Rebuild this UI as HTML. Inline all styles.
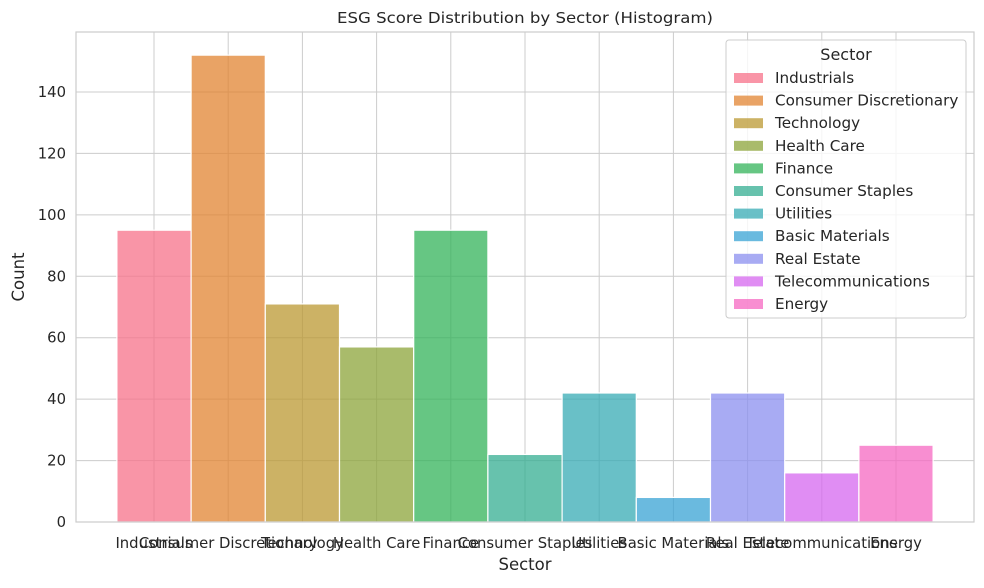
<!DOCTYPE html>
<html><head><meta charset="utf-8"><style>
body{margin:0;background:#fff;font-family:"DejaVu Sans","Liberation Sans",sans-serif;}
</style></head><body>
<svg width="984" height="584" xmlns="http://www.w3.org/2000/svg" font-family="DejaVu Sans, Liberation Sans, sans-serif">
<g id="grid"></g>
<g id="bars"></g>
<rect x="76" y="32" width="898" height="490" fill="none" stroke="#cccccc" stroke-width="1.2"/>
<g id="yticks"></g>
<g id="xticks"></g>
<text x="525" y="23" text-anchor="middle" font-size="15" fill="#262626" textLength="376" lengthAdjust="spacingAndGlyphs">ESG Score Distribution by Sector (Histogram)</text>
<text x="525" y="570" text-anchor="middle" font-size="16.5" fill="#262626">Sector</text>
<text transform="translate(24,277) rotate(-90)" text-anchor="middle" font-size="16.5" fill="#262626">Count</text>
<g id="legend">
<rect x="726" y="40" width="240" height="278" rx="3" fill="#fff" fill-opacity="0.8" stroke="#cccccc"/>
<text x="846" y="60" text-anchor="middle" font-size="16" fill="#262626">Sector</text>
</g>
</svg>
<script>
const categories=["Industrials","Consumer Discretionary","Technology","Health Care","Finance","Consumer Staples","Utilities","Basic Materials","Real Estate","Telecommunications","Energy"];
const counts=[95,152,71,57,95,22,42,8,42,16,25];
const yTicks=[0,20,40,60,80,100,120,140];
const colors=["#f77189","#e18432","#bb9832","#8ca439","#33b35a","#34ae91","#37abb4","#38a3d4","#8b8fef","#d567ef","#f668c2"];
const NS="http://www.w3.org/2000/svg";
const bw=74.2, x0=154;
const xs=i=>x0+i*bw;
const ys=v=>522-v*(430/140);
function mk(t,a,p){const e=document.createElementNS(NS,t);for(const k in a)e.setAttribute(k,a[k]);document.getElementById(p).appendChild(e);return e;}
yTicks.forEach(v=>{
 const l=mk('line',{x1:76,x2:974,y1:ys(v),y2:ys(v),stroke:'#cccccc','stroke-width':1},'grid');
 
 
 const t=mk('text',{x:66,y:ys(v)+5,'text-anchor':'end','font-size':14.8,fill:'#262626'},'yticks');
 t.textContent=v;
 
 
});
categories.forEach((c,i)=>{
 const l=mk('line',{x1:xs(i),x2:xs(i),y1:32,y2:522,stroke:'#cccccc','stroke-width':1},'grid');
 
 
 const r=mk('rect',{x:xs(i)-bw/2,y:ys(counts[i]),width:bw,height:522-ys(counts[i]),fill:colors[i],'fill-opacity':0.75,stroke:'#fff','stroke-width':1.2},'bars');
 
 
 const t=mk('text',{x:xs(i),y:548,'text-anchor':'middle','font-size':14.8,fill:'#262626'},'xticks');
 t.textContent=c;
 
 
 const ly=78+i*22.6;
 const p=mk('rect',{x:734,y:ly-5,width:29,height:10,fill:colors[i],'fill-opacity':0.75},'legend');
 
 
 const lt=mk('text',{x:775,y:ly+5,'font-size':15.2,fill:'#262626'},'legend');
 lt.textContent=c;
 
 
});
</script>
</body></html>
